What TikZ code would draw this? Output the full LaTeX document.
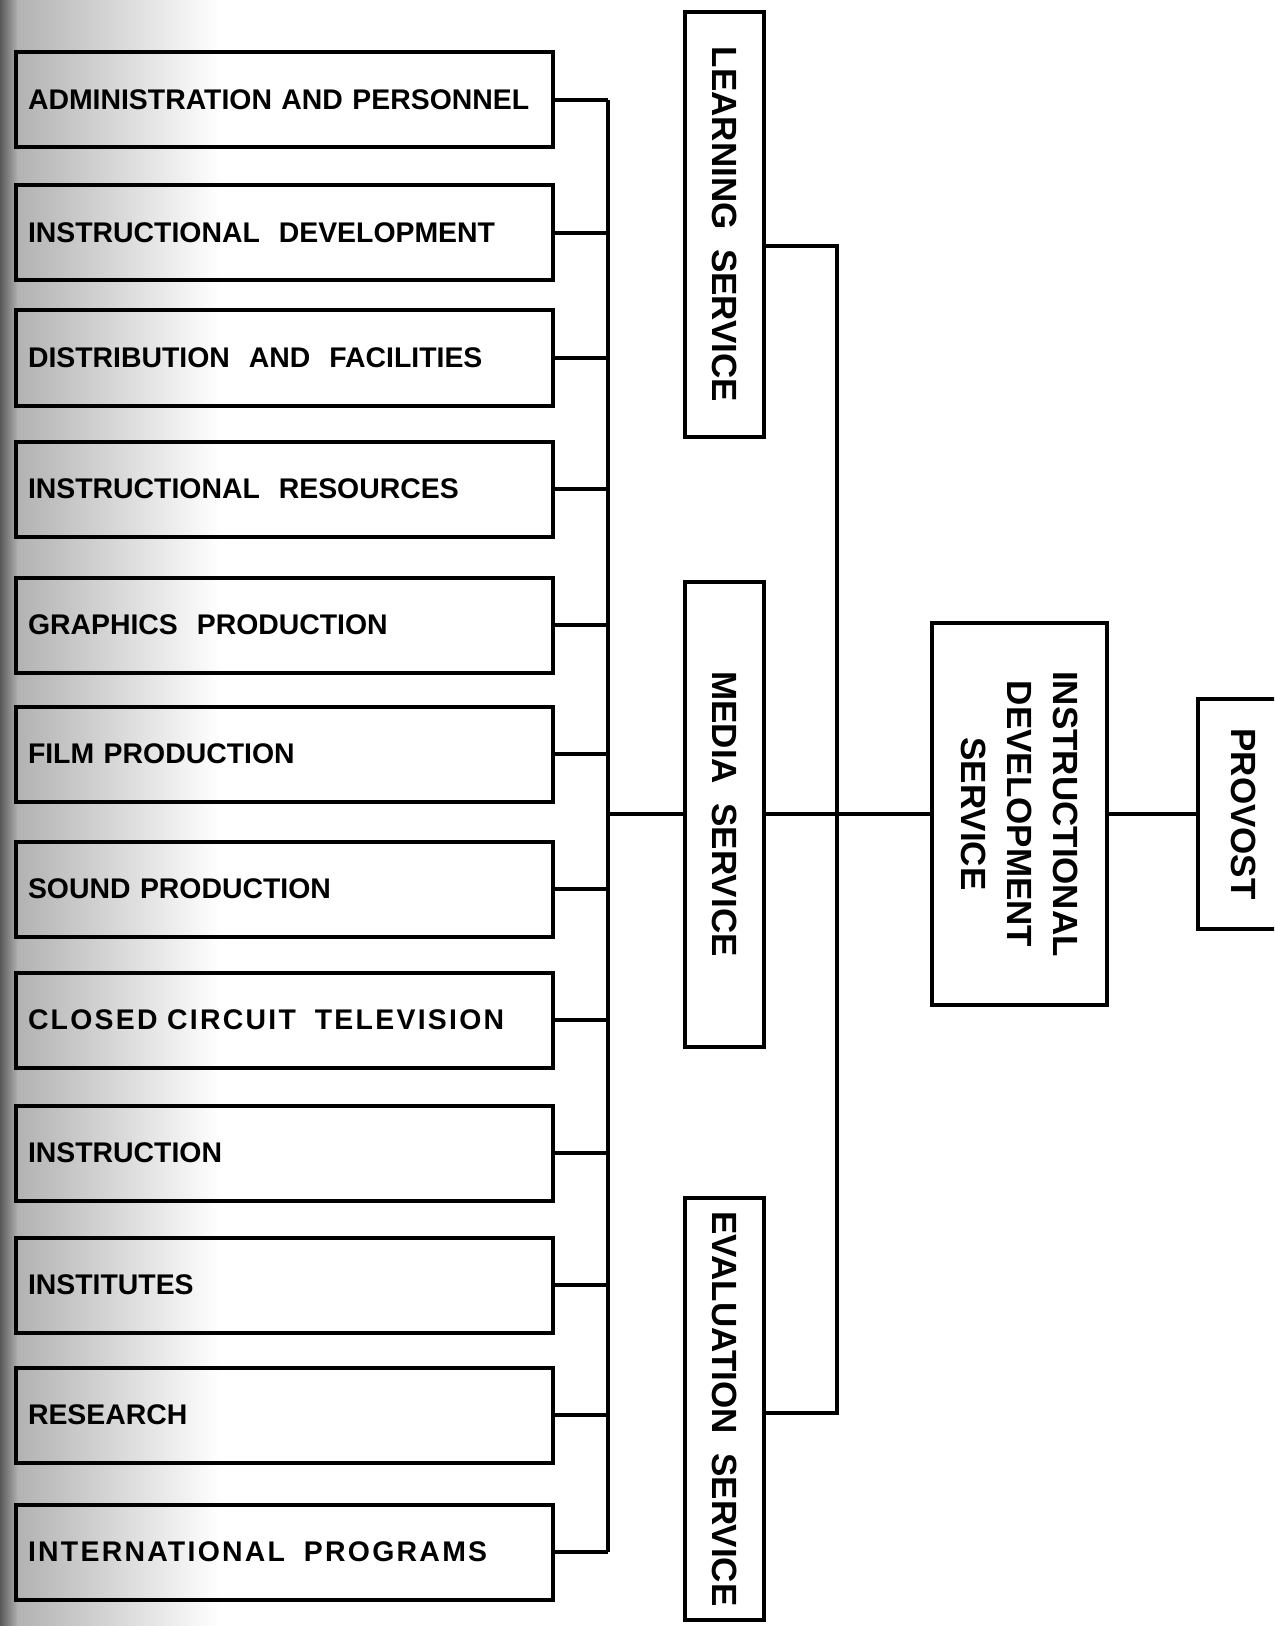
\documentclass[tikz,border=0pt]{standalone}
\usepackage{fontspec}
\setmainfont{Liberation Sans}
\newcommand{\unitfont}{\fontsize{14.2}{17}\selectfont\bfseries}
\newcommand{\servfont}{\fontsize{17.5}{23}\selectfont\bfseries}
\tikzset{
  unitbox/.style={draw, line width=2pt, minimum width=268.5pt, minimum height=47.5pt,
    inner xsep=6pt, text width=256.5pt, align=left, font=\unitfont},
  widebox/.style={unitbox, font=\unitfont\addfontfeature{LetterSpace=8}},
  servbox/.style={draw, line width=2pt, rotate=-90, minimum height=39.5pt,
    inner sep=2pt, align=center, font=\servfont},
  link/.style={line width=1.8pt}
}

\begin{document}
\begin{tikzpicture}[x=0.5pt,y=-0.5pt]
  \useasboundingbox (0,0) rectangle (1274,1626);
  \clip (0,0) rectangle (1274,1626);
  % shadow of the page fold
  \shade[left color=black!65, right color=black!30] (0,0) rectangle (18,1626);
  \shade[left color=black!30, right color=white] (18,0) rectangle (220,1626);

  \node[unitbox] (admin) at (284.5,100) {ADMINISTRATION AND PERSONNEL};
  \node[unitbox] (instdev) at (284.5,233) {INSTRUCTIONAL~~DEVELOPMENT};
  \node[unitbox] (distrib) at (284.5,358) {DISTRIBUTION~~AND~~FACILITIES};
  \node[unitbox] (instres) at (284.5,489) {INSTRUCTIONAL~~RESOURCES};
  \node[unitbox] (graphics) at (284.5,625) {GRAPHICS~~PRODUCTION};
  \node[unitbox] (film) at (284.5,754) {FILM PRODUCTION};
  \node[unitbox] (sound) at (284.5,889) {SOUND PRODUCTION};
  \node[widebox] (cctv) at (284.5,1020) {CLOSED CIRCUIT~~TELEVISION};
  \node[unitbox] (instr) at (284.5,1153) {INSTRUCTION};
  \node[unitbox] (inst) at (284.5,1285) {INSTITUTES};
  \node[unitbox] (research) at (284.5,1415) {RESEARCH};
  \node[widebox] (intl) at (284.5,1552) {INTERNATIONAL~~PROGRAMS};

  \node[servbox, minimum width=212.5pt] (learning) at (724.5,224.5) {LEARNING~~SERVICE};
  \node[servbox, minimum width=232.5pt] (media) at (724.5,814) {MEDIA~~SERVICE};
  \node[servbox, minimum width=211pt] (evaluation) at (724.5,1409) {EVALUATION~~SERVICE};
  \node[servbox, minimum width=191pt, minimum height=87.5pt] (ids) at (1019.5,814)
    {INSTRUCTIONAL\\DEVELOPMENT\\SERVICE};
  \node[servbox, minimum width=115pt, minimum height=46pt] (provost) at (1244,814) {PROVOST};

  \coordinate (bus) at (608,0);
  \coordinate (trunktop) at (837,246);
  \coordinate (trunkbot) at (837,1413);

  \draw[link] (admin.east -| bus) -- (intl.east -| bus);
  \draw[link] (admin.east) -- (admin.east -| bus);
  \draw[link] (instdev.east) -- (instdev.east -| bus);
  \draw[link] (distrib.east) -- (distrib.east -| bus);
  \draw[link] (instres.east) -- (instres.east -| bus);
  \draw[link] (graphics.east) -- (graphics.east -| bus);
  \draw[link] (film.east) -- (film.east -| bus);
  \draw[link] (sound.east) -- (sound.east -| bus);
  \draw[link] (cctv.east) -- (cctv.east -| bus);
  \draw[link] (instr.east) -- (instr.east -| bus);
  \draw[link] (inst.east) -- (inst.east -| bus);
  \draw[link] (research.east) -- (research.east -| bus);
  \draw[link] (intl.east) -- (intl.east -| bus);

  \draw[link] (media.south -| bus) -- (media.south);
  \draw[link] (media.north) -- (ids.south);
  \draw[link] (ids.north) -- (provost.south);
  \draw[link] (learning.north |- trunktop) -- (trunktop) -- (trunkbot) -- (evaluation.north |- trunkbot);
\end{tikzpicture}
\end{document}
